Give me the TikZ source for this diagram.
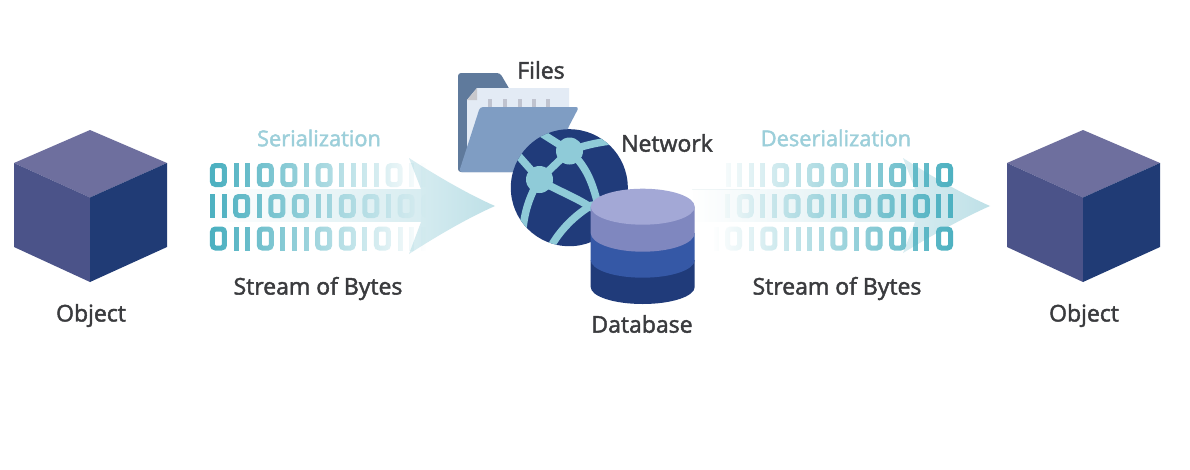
\documentclass[tikz,border=0pt]{standalone}
\usepackage{fontspec}
\setmainfont{Open Sans}[FakeBold=1.9]
\usetikzlibrary{fadings}
\definecolor{cubetop}{HTML}{6E6F9E}
\definecolor{cubeleft}{HTML}{4B5389}
\definecolor{cuberight}{HTML}{203B75}
\definecolor{bitcol}{HTML}{4DB1C1}
\definecolor{titlecol}{HTML}{9CCFDA}
\definecolor{labelcol}{HTML}{3A3B3E}
\definecolor{arrowl}{HTML}{D8EDF1}
\definecolor{arrowr}{HTML}{BEE0E7}
\definecolor{folderback}{HTML}{5F7A9C}
\definecolor{folderfront}{HTML}{7F9DC3}
\definecolor{paper}{HTML}{E3EBF5}
\definecolor{paperfold}{HTML}{C8C8CC}
\definecolor{tick}{HTML}{BFC3CF}
\definecolor{globe}{HTML}{203B7A}
\definecolor{link}{HTML}{8FCBD8}
\definecolor{dbtop}{HTML}{A3A8D6}
\definecolor{dbone}{HTML}{7F87BF}
\definecolor{dbtwo}{HTML}{3558A6}
\definecolor{faintline}{HTML}{F1F6F7}
\tikzfading[name=fadein, left color=transparent!100, right color=transparent!0]
\tikzfading[name=fadeout, left color=transparent!0, right color=transparent!100]
\newdimen\bitx
\newcommand\bitrow[6]{% start x, top, bottom, direction (+1/-1), digits, fade options
  \global\bitx=#1pt
  \foreach \b in {#5}{%
    \pgfmathsetmacro\cx{\bitx}%
    \ifnum\b=0
      \pgfmathsetmacro\ax{min(\cx,\cx+#4*17)}%
      \pgfmathsetmacro\bx{max(\cx,\cx+#4*17)}%
      \fill[#6,bitcol,even odd rule]
        [rounded corners=5pt] (\ax,#2) rectangle (\bx,#3)
        [rounded corners=1pt] (\ax+5,#2+5) rectangle (\bx-5,#3-5);
      \global\advance\bitx by #4\dimexpr 17pt+6.6pt\relax
    \else
      \pgfmathsetmacro\bx{\cx+#4*5}%
      \fill[#6,bitcol] (\cx,#2) rectangle (\bx,#3);
      \global\advance\bitx by #4\dimexpr 5pt+6.6pt\relax
    \fi
  }%
}
\newcommand\cube[1]{%
  \fill[cubetop] (#1,130) -- (#1+77,163) -- (#1,197.5) -- (#1-76,163) -- cycle;
  \fill[cubeleft] (#1-76,163) -- (#1,197.5) -- (#1,282) -- (#1-76,247) -- cycle;
  \fill[cuberight] (#1+77,163) -- (#1,197.5) -- (#1,282) -- (#1+77,247) -- cycle;
}
\tikzset{
  fadeL/.style={path fading=fadeout,fit fading=false,fading transform={shift={(320,206)},xscale=4.2,yscale=2}},
  fadeR/.style={path fading=fadein,fit fading=false,fading transform={shift={(833,206)},xscale=4.8,yscale=2}},
  lbl/.style={font=\fontsize{23}{27}\selectfont,text=labelcol,inner sep=0pt},
  ttl/.style={font=\fontsize{21.8}{26}\selectfont,text=titlecol,inner sep=0pt},
  linkline/.style={draw=link,line width=7.5pt,line cap=round},
}
\begin{document}
\begin{tikzpicture}[x=1pt,y=-1pt]
\useasboundingbox (0,0) rectangle (1190,469);
\fill[white] (0,0) rectangle (1190,469);

% cubes
\cube{90}
\cube{1083}

% left arrow
\fill[arrowl,path fading=fadein] (210,189) rectangle (421.5,222);
\shade[left color=arrowl,right color=arrowr] (409,158) .. controls (440,178) and (470,195) .. (495,206)
  .. controls (470,217) and (440,234) .. (409,254) -- (421,222) -- (421,189) -- cycle;

% left bits
\bitrow{210}{163}{187}{1}{0,1,1,0,0,1,0,1,1,1,1,0,1,1}{fadeL}
\bitrow{210}{194}{218}{1}{1,1,0,1,0,0,1,1,0,0,1,0,0}{fadeL}
\bitrow{210}{226.5}{250.5}{1}{0,1,1,0,1,1,1,0,0,1,0,1,1,1}{fadeL}

% right arrow
\draw[faintline,line width=0.6pt] (692,189) -- (760,189);
\fill[arrowl,path fading=fadein] (692,189) rectangle (915.5,222);
\shade[left color=arrowl,right color=arrowr] (903,158) .. controls (934,178) and (965,195) .. (990,206)
  .. controls (965,217) and (934,234) .. (903,253) -- (915,222) -- (915,189) -- cycle;

% right bits
\bitrow{953}{163}{187}{-1}{0,1,1,0,1,1,1,0,0,1,0,1,1,1,1}{fadeR}
\bitrow{953}{194}{218}{-1}{1,1,0,1,0,0,1,1,0,0,1,1,0,1}{fadeR}
\bitrow{953}{226.5}{250.5}{-1}{0,1,1,0,0,1,0,1,1,1,1,0,1,0,1}{fadeR}

% folder
\fill[folderback,rounded corners=3pt] (458,172) -- (458,73) -- (500,73) -- (510,90) -- (515,172) -- cycle;
\fill[paper] (467,100) -- (477,88) -- (569,88) -- (569,172) -- (467,172) -- cycle;
\fill[paperfold] (467,100) -- (477,88) -- (477,100) -- cycle;
\foreach \tx in {490,505,519.5,534,548} \fill[tick] (\tx-2,99) rectangle (\tx+2,108);
\fill[folderfront,rounded corners=3pt] (480,107) -- (579,107) -- (545,172) -- (459,172) -- cycle;

% globe
\fill[globe] (569.3,187.7) circle[radius=58.5];
\begin{scope}
\clip (569.3,187.7) circle[radius=58.5];
\coordinate (n1) at (569.5,151);
\coordinate (n2) at (539.5,179.5);
\draw[linkline] (541,133) -- (n1);
\draw[linkline] (n1) .. controls (582,146) and (595,143) .. (610,141);
\draw[linkline] (n1) -- (n2);
\draw[linkline] (n2) -- (516,153);
\draw[linkline] (n2) .. controls (530,195) and (525,210) .. (523,228);
\draw[linkline] (n1) .. controls (585,165) and (592,180) .. (598,205);
\draw[linkline] (n2) .. controls (555,190) and (572,195) .. (592,208);
\draw[linkline] (550,248) .. controls (560,230) and (575,215) .. (592,205);
\fill[link] (n1) circle[radius=13.5];
\fill[link] (n2) circle[radius=13.5];
\end{scope}

% database
\fill[globe] (590.7,260) -- (590.7,287) arc[start angle=180,end angle=0,x radius=52,y radius=17] -- (694.7,260) -- cycle;
\fill[dbtwo] (590.7,233) -- (590.7,260) arc[start angle=180,end angle=0,x radius=52,y radius=17.7] -- (694.7,233) -- cycle;
\fill[dbone] (590.7,206.7) -- (590.7,233) arc[start angle=180,end angle=0,x radius=52,y radius=18.7] -- (694.7,206.7) -- cycle;
\fill[dbtop] (642.7,206.7) ellipse[x radius=52,y radius=18];

% labels
\node[ttl] (ser) at (319,138) {Serialization};
\node[ttl] (des) at (836,138) {Deserialization};
\node[lbl] (str1) at (318,288.5) {Stream of Bytes};
\node[lbl] (str2) at (837,288.5) {Stream of Bytes};
\node[lbl] (obj1) at (91,315.5) {Object};
\node[lbl] (obj2) at (1084,315.5) {Object};
\node[lbl] (files) at (541,70) {Files};
\node[lbl] (net) at (667,143) {Network};
\node[lbl] (db) at (642,324) {Database};
\end{tikzpicture}
\end{document}
